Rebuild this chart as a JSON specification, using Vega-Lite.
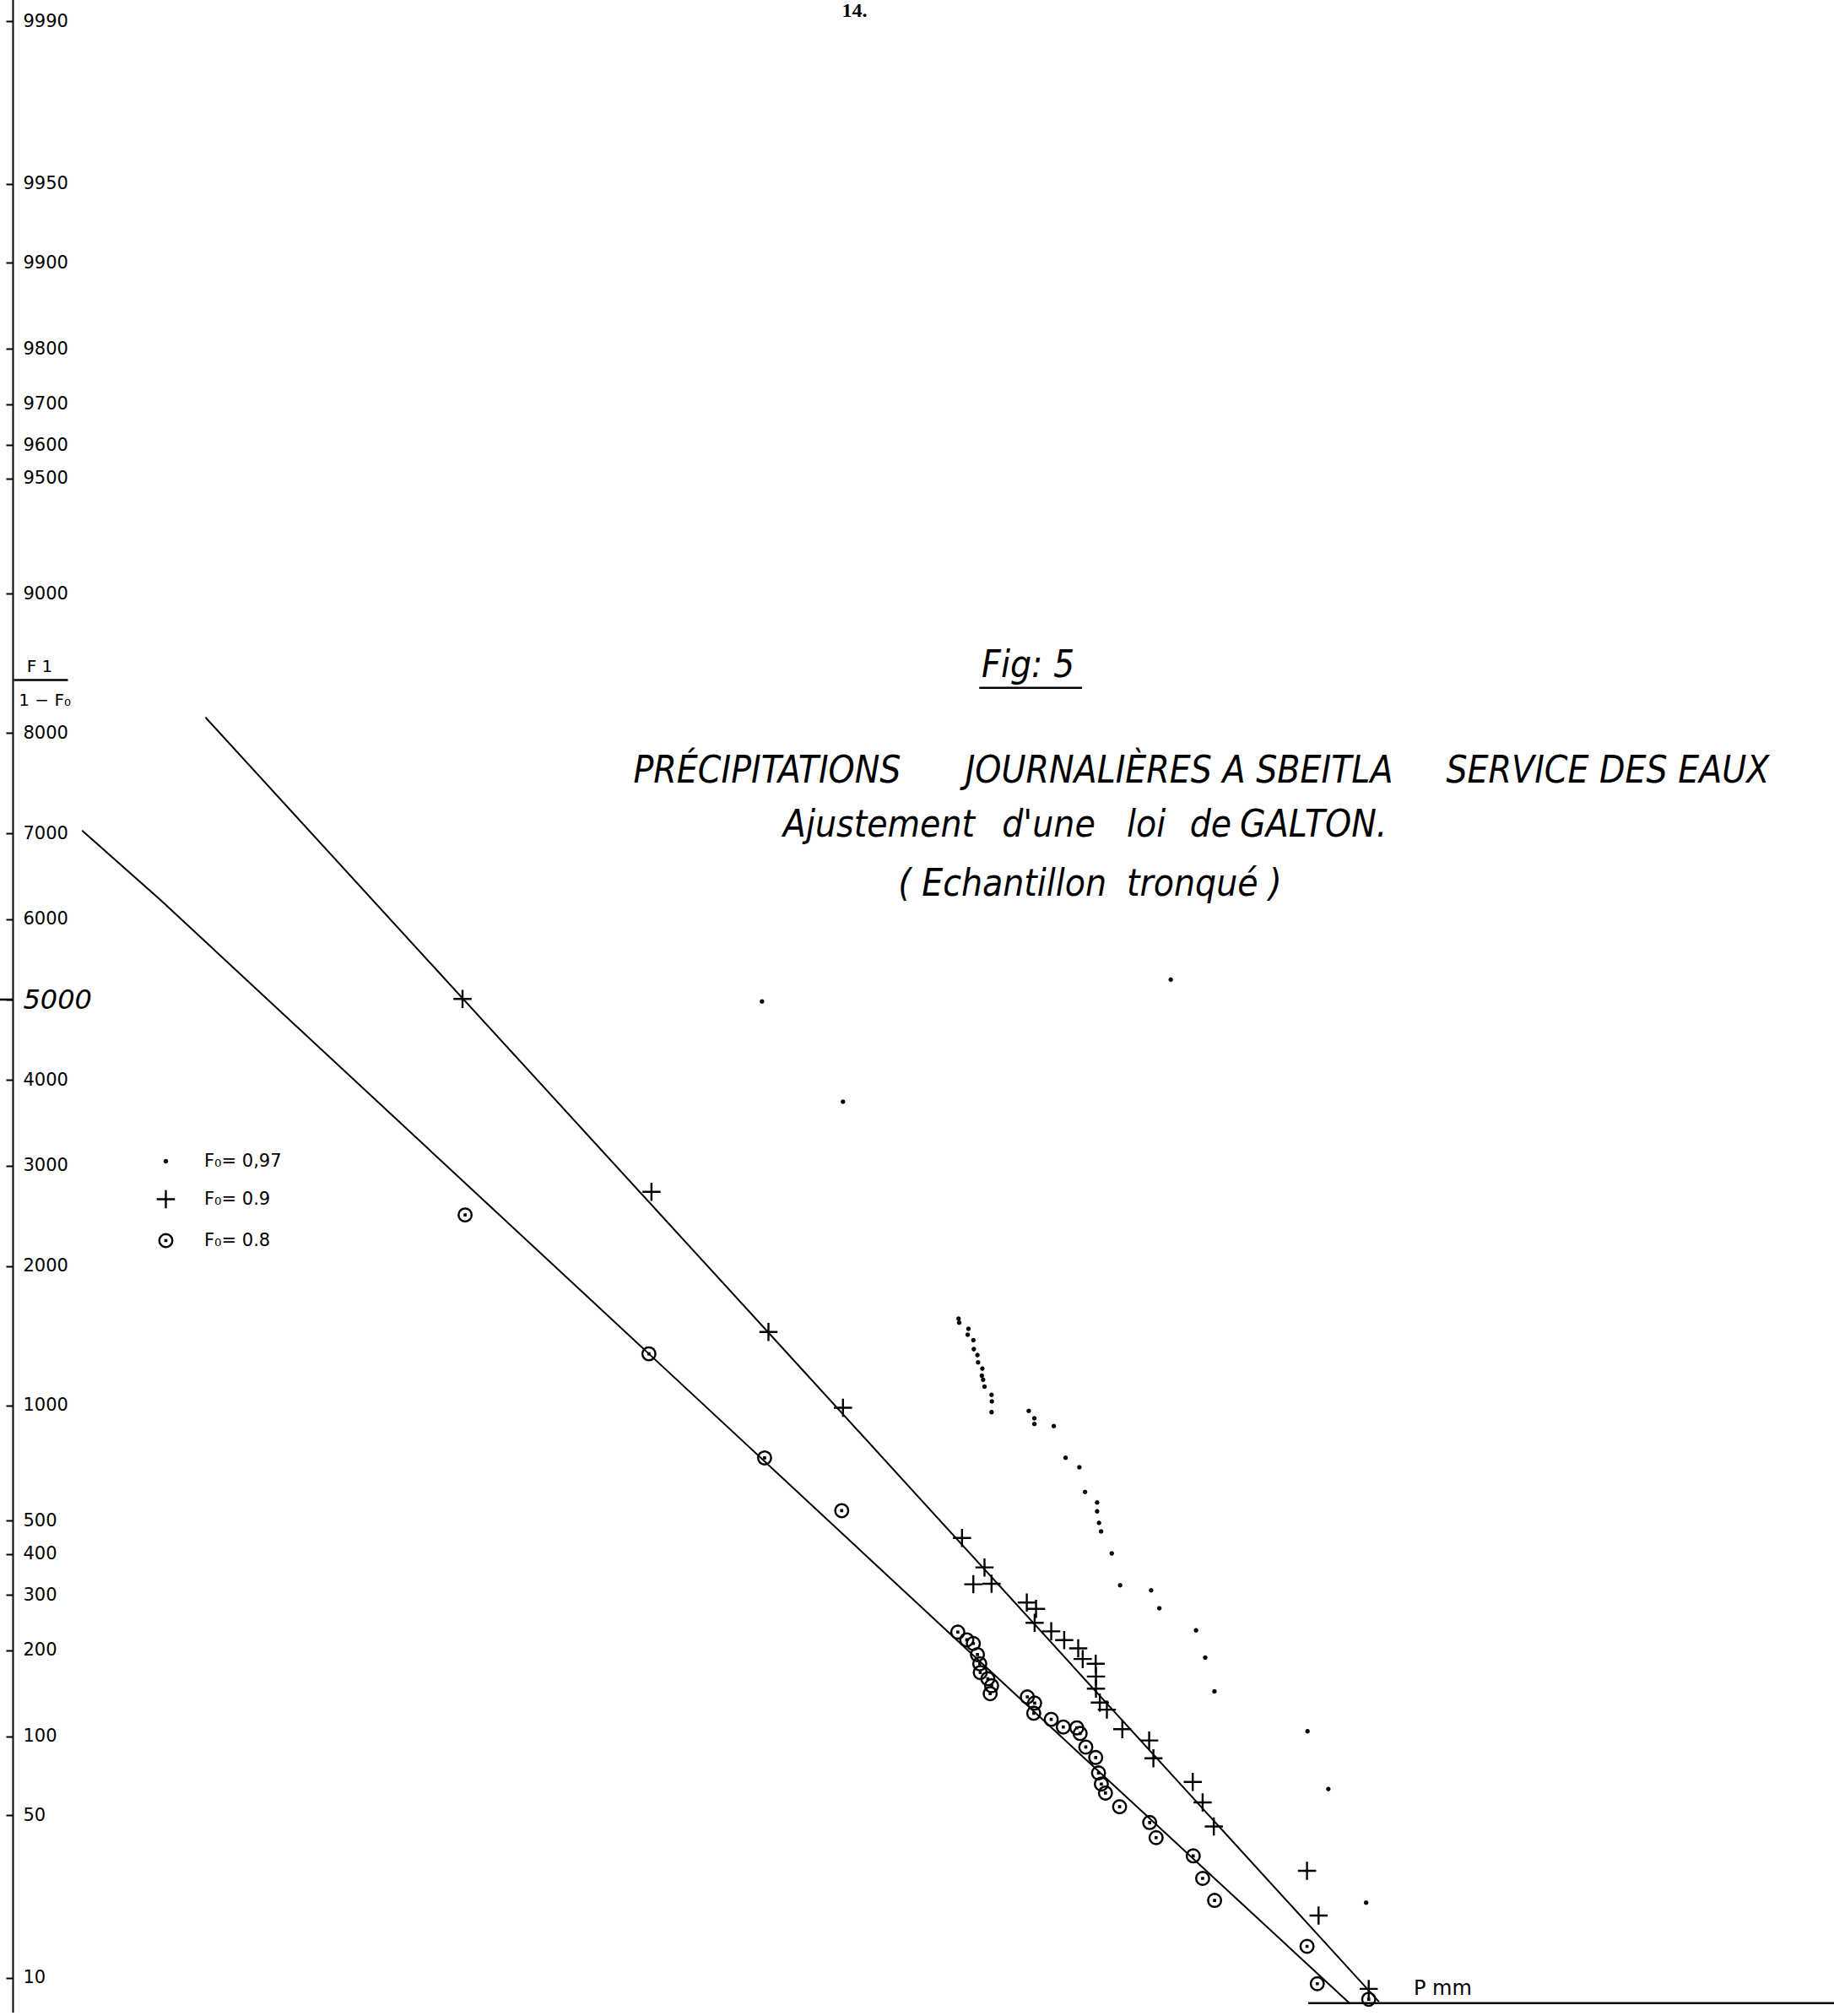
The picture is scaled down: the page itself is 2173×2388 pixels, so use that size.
{
  "$schema": "https://vega.github.io/schema/vega-lite/v6.json",
  "width": 2158,
  "height": 2388,
  "autosize": {"type": "none"},
  "padding": {"left": 15, "top": 0, "right": 0, "bottom": 0},
  "background": "white",
  "config": {"view": {"stroke": null}, "font": "DejaVu Sans"},
  "encoding": {
    "x": {"field": "P", "type": "quantitative", "scale": {"domain": [10, 1427], "zero": false, "nice": false}, "axis": null},
    "y": {
      "field": "p",
      "type": "quantitative",
      "scale": {
        "type": "linear",
        "zero": false,
        "nice": false,
        "domain": [6.87, 9.68, 13.50, 18.66, 25.55, 34.67, 46.61, 62.10, 81.98, 107.24, 139.03, 178.64, 227.50, 287.17, 359.30, 445.65, 547.99, 668.07, 807.57, 968.00, 1150.7, 1356.7, 1586.6, 1840.6, 2118.6, 2419.6, 2742.5, 3085.4, 3445.8, 3820.9, 4207.4, 4601.7, 5000, 5398.3, 5792.6, 6179.1, 6554.2, 6914.6, 7257.5, 7580.4, 7881.4, 8159.4, 8413.4, 8643.3, 8849.3, 9032.0, 9192.43, 9331.93, 9452.01, 9554.35, 9640.70, 9712.83, 9772.50, 9821.36, 9860.97, 9892.76, 9918.02, 9937.90, 9953.39, 9965.33, 9974.45, 9981.34, 9986.50, 9990.32, 9993.13],
        "range": [2383.4, 2345.9, 2308.4, 2270.9, 2233.4, 2196.0, 2158.5, 2121.0, 2083.5, 2046.0, 2008.6, 1971.1, 1933.6, 1896.1, 1858.6, 1821.2, 1783.7, 1746.2, 1708.7, 1671.2, 1633.8, 1596.3, 1558.8, 1521.3, 1483.8, 1446.4, 1408.9, 1371.4, 1333.9, 1296.4, 1259.0, 1221.5, 1184.0, 1146.5, 1109.0, 1071.6, 1034.1, 996.6, 959.1, 921.6, 884.2, 846.7, 809.2, 771.7, 734.2, 696.8, 659.3, 621.8, 584.3, 546.8, 509.4, 471.9, 434.4, 396.9, 359.4, 322.0, 284.5, 247.0, 209.5, 172.0, 134.6, 97.1, 59.6, 22.1, -15.4]
      },
      "axis": {
        "title": null,
        "values": [10, 50, 100, 200, 300, 400, 500, 1000, 2000, 3000, 4000, 5000, 6000, 7000, 8000, 9000, 9500, 9600, 9700, 9800, 9900, 9950, 9990],
        "format": "d",
        "grid": false,
        "domainColor": "black",
        "domainWidth": 2,
        "tickColor": "black",
        "tickWidth": 2,
        "tickSize": 8,
        "labelPadding": -20,
        "labelAlign": "left",
        "labelBaseline": "middle",
        "labelFont": "DejaVu Sans",
        "labelColor": "black",
        "labelFontSize": {"condition": {"test": "datum.value === 5000", "value": 32}, "value": 21},
        "labelFontStyle": {"condition": {"test": "datum.value === 5000", "value": "italic"}, "value": "normal"},
        "labelOverlap": false,
        "labelBound": false,
        "labelFlush": false
      }
    }
  },
  "layer": [
    {
      "data": {"values": [
        {"fit": "F0=0.9", "P": 160, "p": 8136.9},
        {"fit": "F0=0.9", "P": 598, "p": 1466.1},
        {"fit": "F0=0.9", "P": 1073, "p": 7.79},
        {"fit": "F0=0.8", "P": 64, "p": 7032.2},
        {"fit": "F0=0.8", "P": 125, "p": 6235.0},
        {"fit": "F0=0.8", "P": 505, "p": 1316.5},
        {"fit": "F0=0.8", "P": 760, "p": 187.2},
        {"fit": "F0=0.8", "P": 1050, "p": 7.67}
      ]},
      "mark": {"type": "line", "color": "black", "strokeWidth": 2},
      "encoding": {"detail": {"field": "fit", "type": "nominal"}}
    },
    {
      "data": {"values": [
        {"serie": "F₀= 0.9", "P": 360, "p": 5008},
        {"serie": "F₀= 0.9", "P": 507, "p": 2718.3},
        {"serie": "F₀= 0.9", "P": 598, "p": 1470.7},
        {"serie": "F₀= 0.9", "P": 656, "p": 986.1},
        {"serie": "F₀= 0.9", "P": 748.6, "p": 444.5},
        {"serie": "F₀= 0.9", "P": 766.1, "p": 363.8},
        {"serie": "F₀= 0.9", "P": 757.4, "p": 324.7},
        {"serie": "F₀= 0.9", "P": 771.6, "p": 325.8},
        {"serie": "F₀= 0.9", "P": 799, "p": 283.8},
        {"serie": "F₀= 0.9", "P": 806.2, "p": 271.9},
        {"serie": "F₀= 0.9", "P": 805.1, "p": 245.5},
        {"serie": "F₀= 0.9", "P": 818, "p": 229.5},
        {"serie": "F₀= 0.9", "P": 828.1, "p": 215.6},
        {"serie": "F₀= 0.9", "P": 839, "p": 202.9},
        {"serie": "F₀= 0.9", "P": 842.5, "p": 186.4},
        {"serie": "F₀= 0.9", "P": 852.6, "p": 179.0},
        {"serie": "F₀= 0.9", "P": 852.8, "p": 163.0},
        {"serie": "F₀= 0.9", "P": 852.8, "p": 147.9},
        {"serie": "F₀= 0.9", "P": 855.8, "p": 132.1},
        {"serie": "F₀= 0.9", "P": 861.3, "p": 125.0},
        {"serie": "F₀= 0.9", "P": 873.3, "p": 105.7},
        {"serie": "F₀= 0.9", "P": 894.2, "p": 96.7},
        {"serie": "F₀= 0.9", "P": 897.5, "p": 82.5},
        {"serie": "F₀= 0.9", "P": 928.1, "p": 67.55},
        {"serie": "F₀= 0.9", "P": 935.8, "p": 56.3},
        {"serie": "F₀= 0.9", "P": 944.5, "p": 45.0},
        {"serie": "F₀= 0.9", "P": 1017, "p": 29.8},
        {"serie": "F₀= 0.9", "P": 1026, "p": 19.0},
        {"serie": "F₀= 0.9", "P": 1065, "p": 8.93},
        {"serie": "F₀= 0.8", "P": 362, "p": 2482.2},
        {"serie": "F₀= 0.8", "P": 505, "p": 1316.5},
        {"serie": "F₀= 0.8", "P": 595, "p": 739.8},
        {"serie": "F₀= 0.8", "P": 655, "p": 532.4},
        {"serie": "F₀= 0.8", "P": 745.3, "p": 228.0},
        {"serie": "F₀= 0.8", "P": 752.3, "p": 216.0},
        {"serie": "F₀= 0.8", "P": 757.4, "p": 210.4},
        {"serie": "F₀= 0.8", "P": 760.6, "p": 193.2},
        {"serie": "F₀= 0.8", "P": 762.4, "p": 179.0},
        {"serie": "F₀= 0.8", "P": 762.8, "p": 168.0},
        {"serie": "F₀= 0.8", "P": 768.7, "p": 160.3},
        {"serie": "F₀= 0.8", "P": 771.6, "p": 151.5},
        {"serie": "F₀= 0.8", "P": 770.5, "p": 141.6},
        {"serie": "F₀= 0.8", "P": 799.4, "p": 137.8},
        {"serie": "F₀= 0.8", "P": 805.1, "p": 131.6},
        {"serie": "F₀= 0.8", "P": 804.4, "p": 121.4},
        {"serie": "F₀= 0.8", "P": 818, "p": 115.2},
        {"serie": "F₀= 0.8", "P": 827.4, "p": 107.5},
        {"serie": "F₀= 0.8", "P": 837.9, "p": 106.8},
        {"serie": "F₀= 0.8", "P": 840.5, "p": 102.3},
        {"serie": "F₀= 0.8", "P": 844.9, "p": 91.45},
        {"serie": "F₀= 0.8", "P": 852.6, "p": 83.1},
        {"serie": "F₀= 0.8", "P": 854.8, "p": 73.2},
        {"serie": "F₀= 0.8", "P": 857, "p": 66.2},
        {"serie": "F₀= 0.8", "P": 860.2, "p": 60.9},
        {"serie": "F₀= 0.8", "P": 871.2, "p": 54.2},
        {"serie": "F₀= 0.8", "P": 894.6, "p": 46.5},
        {"serie": "F₀= 0.8", "P": 899.6, "p": 40.8},
        {"serie": "F₀= 0.8", "P": 928.5, "p": 34.1},
        {"serie": "F₀= 0.8", "P": 935.8, "p": 27.6},
        {"serie": "F₀= 0.8", "P": 945.1, "p": 22.3},
        {"serie": "F₀= 0.8", "P": 1017, "p": 13.9},
        {"serie": "F₀= 0.8", "P": 1025, "p": 9.39},
        {"serie": "F₀= 0.8", "P": 1065, "p": 8.01},
        {"serie": "F₀= 0,97", "P": 745.9, "p": 1567.1},
        {"serie": "F₀= 0,97", "P": 746.4, "p": 1538.1},
        {"serie": "F₀= 0,97", "P": 753.6, "p": 1493.3},
        {"serie": "F₀= 0,97", "P": 753, "p": 1450.3},
        {"serie": "F₀= 0,97", "P": 757.4, "p": 1411.0},
        {"serie": "F₀= 0,97", "P": 757.8, "p": 1346.8},
        {"serie": "F₀= 0,97", "P": 760.6, "p": 1308.3},
        {"serie": "F₀= 0,97", "P": 761.1, "p": 1260.5},
        {"serie": "F₀= 0,97", "P": 764.4, "p": 1220.3},
        {"serie": "F₀= 0,97", "P": 764, "p": 1174.2},
        {"serie": "F₀= 0,97", "P": 765, "p": 1148.0},
        {"serie": "F₀= 0,97", "P": 766.1, "p": 1108.5},
        {"serie": "F₀= 0,97", "P": 771.6, "p": 1060.3},
        {"serie": "F₀= 0,97", "P": 771.8, "p": 1022.4},
        {"serie": "F₀= 0,97", "P": 771.6, "p": 961.7},
        {"serie": "F₀= 0,97", "P": 800.5, "p": 967.5},
        {"serie": "F₀= 0,97", "P": 804.9, "p": 930.3},
        {"serie": "F₀= 0,97", "P": 804.9, "p": 901.7},
        {"serie": "F₀= 0,97", "P": 820, "p": 890.7},
        {"serie": "F₀= 0,97", "P": 829.2, "p": 740.3},
        {"serie": "F₀= 0,97", "P": 839.9, "p": 698.3},
        {"serie": "F₀= 0,97", "P": 844.3, "p": 600.9},
        {"serie": "F₀= 0,97", "P": 853.7, "p": 560.5},
        {"serie": "F₀= 0,97", "P": 853.7, "p": 530.4},
        {"serie": "F₀= 0,97", "P": 855.2, "p": 492.9},
        {"serie": "F₀= 0,97", "P": 856.8, "p": 465.1},
        {"serie": "F₀= 0,97", "P": 865.1, "p": 402.0},
        {"serie": "F₀= 0,97", "P": 871.6, "p": 322.6},
        {"serie": "F₀= 0,97", "P": 895.7, "p": 310.9},
        {"serie": "F₀= 0,97", "P": 902.1, "p": 272.9},
        {"serie": "F₀= 0,97", "P": 930.7, "p": 231.4},
        {"serie": "F₀= 0,97", "P": 937.8, "p": 188.6},
        {"serie": "F₀= 0,97", "P": 945, "p": 144.4},
        {"serie": "F₀= 0,97", "P": 1017.4, "p": 104.1},
        {"serie": "F₀= 0,97", "P": 1033.6, "p": 63.1},
        {"serie": "F₀= 0,97", "P": 1063, "p": 21.8},
        {"serie": "F₀= 0,97", "P": 656, "p": 3734.6},
        {"serie": "F₀= 0,97", "P": 593, "p": 4975.7},
        {"serie": "F₀= 0,97", "P": 911, "p": 5250.9}
      ]},
      "mark": {"type": "point", "filled": false, "stroke": "black", "strokeWidth": 2.4, "opacity": 1, "size": 625},
      "encoding": {
        "shape": {
          "field": "serie",
          "type": "nominal",
          "scale": {
            "domain": ["F₀= 0,97", "F₀= 0.9", "F₀= 0.8"],
            "range": [
              "M0.12,0L0.085,0.085L0,0.12L-0.085,0.085L-0.12,0L-0.085,-0.085L0,-0.12L0.085,-0.085Z",
              "M-0.86,0L0.86,0M0,-0.86L0,0.86",
              "M0.62,0L0.573,0.237L0.438,0.438L0.237,0.573L0,0.62L-0.237,0.573L-0.438,0.438L-0.573,0.237L-0.62,0L-0.573,-0.237L-0.438,-0.438L-0.237,-0.573L0,-0.62L0.237,-0.573L0.438,-0.438L0.573,-0.237ZM-0.05,-0.05L0.05,-0.05L0.05,0.05L-0.05,0.05Z"
            ]
          },
          "legend": {
            "title": null, "orient": "none", "legendX": 167.5, "legendY": 1361.5, "padding": 0,
            "rowPadding": 19, "labelOffset": 31.5, "labelFont": "DejaVu Sans", "labelFontSize": 21,
            "labelColor": "black", "symbolStrokeColor": "black", "symbolStrokeWidth": 2.4, "symbolOpacity": 1,
            "symbolSize": 625
          }
        }
      }
    },
    {
      "data": {"values": [
        {"P": 1018, "P2": 1427, "p": 7.67},
        {"P": 0, "P2": 10, "p": 5000},
        {"P": 762, "P2": 842, "p": 8376.3},
        {"P": 11, "P2": 53, "p": 8435.7}
      ]},
      "mark": {"type": "rule", "color": "black", "strokeWidth": 2.5},
      "encoding": {"x2": {"field": "P2"}}
    },
    {
      "data": {"values": [
        {"t": "Fig: 5", "P": 800, "p": 8538.5},
        {"t": "PRÉCIPITATIONS", "P": 597, "p": 7644.5},
        {"t": "JOURNALIÈRES A SBEITLA", "P": 917.5, "p": 7644.5},
        {"t": "SERVICE DES EAUX", "P": 1251, "p": 7644.5},
        {"t": "Ajustement", "P": 684, "p": 7088.1},
        {"t": "d'une", "P": 816, "p": 7088.1},
        {"t": "loi", "P": 892, "p": 7088.1},
        {"t": "de", "P": 942, "p": 7088.1},
        {"t": "GALTON.", "P": 1022, "p": 7088.1},
        {"t": "( Echantillon", "P": 780, "p": 6418.0},
        {"t": "tronqué )", "P": 937, "p": 6418.0}
      ]},
      "mark": {"type": "text", "font": "Liberation Sans Narrow, DejaVu Sans Condensed, Liberation Sans", "fontStyle": "italic", "fontSize": 44, "align": "center", "baseline": "middle", "color": "black"},
      "encoding": {"text": {"field": "t"}}
    },
    {
      "data": {"values": [
        {"t": "F 1", "P": 31, "p": 8529.3},
        {"t": "1 − F₀", "P": 35, "p": 8273.0}
      ]},
      "mark": {"type": "text", "font": "DejaVu Sans", "fontSize": 20, "align": "center", "baseline": "middle", "color": "black"},
      "encoding": {"text": {"field": "t"}}
    },
    {
      "data": {"values": [
        {"t": "P mm", "P": 1100, "p": 8.93}
      ]},
      "mark": {"type": "text", "font": "DejaVu Sans", "fontSize": 24, "align": "left", "baseline": "middle", "color": "black"},
      "encoding": {"text": {"field": "t"}}
    },
    {
      "data": {"values": [
        {"t": "14.", "P": 665, "p": 9993.13}
      ]},
      "mark": {"type": "text", "font": "Liberation Serif", "fontWeight": "bold", "fontSize": 24, "align": "center", "baseline": "top", "dy": 16, "color": "black"},
      "encoding": {"text": {"field": "t"}}
    }
  ]
}
